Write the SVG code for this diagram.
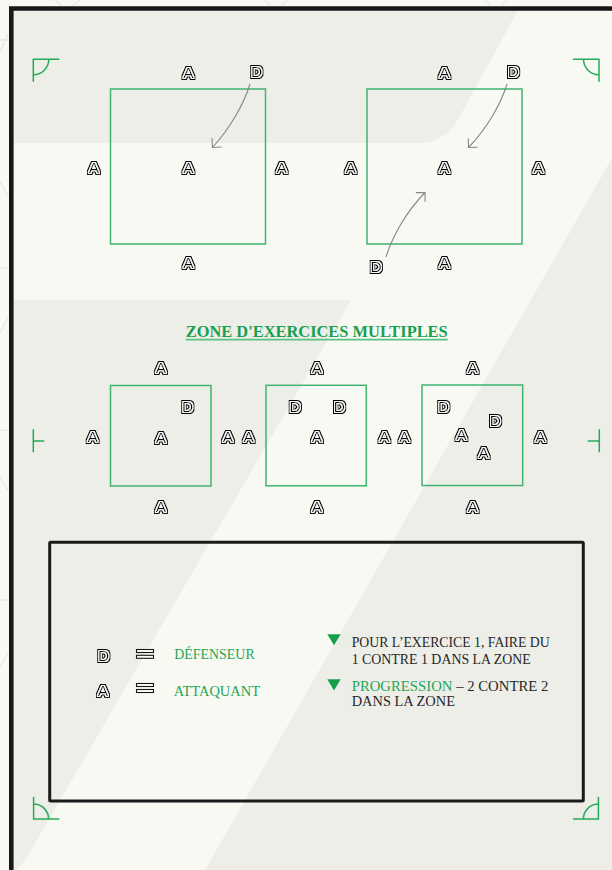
<svg xmlns="http://www.w3.org/2000/svg" width="612" height="870" viewBox="0 0 612 870">
<defs>
<style>
.bgl{fill:#f9f9f4}
.bgg{fill:#eeeee9}
.faint{fill:none;stroke:#e2e2dc;stroke-width:1}
.zone{fill:none;stroke:#3fb56e;stroke-width:1.5}
.mark{fill:none;stroke:#25aa58;stroke-width:1.5}
.pl{font-family:"Liberation Sans",Arial,sans-serif;font-size:15.5px;fill:#111;text-anchor:middle;filter:url(#ol)}
.conn path{fill:none;stroke:#868686;stroke-width:1.1;marker-end:url(#ah)}
.ser{font-family:"Liberation Serif","Times New Roman",serif;font-size:14.3px}
.grn{fill:#1fa556}
.drk{fill:#262626}
.tri{fill:#14a04b}
.eq{fill:#fff;stroke:#151515;stroke-width:1.1}
</style>
<filter id="ol" x="-40%" y="-40%" width="180%" height="180%">
<feMorphology in="SourceAlpha" operator="dilate" radius="2.1" result="o"/>
<feMorphology in="SourceAlpha" operator="dilate" radius="1.05" result="m"/>
<feFlood flood-color="#ffffff"/>
<feComposite in2="m" operator="in" result="w"/>
<feMerge><feMergeNode in="o"/><feMergeNode in="w"/><feMergeNode in="SourceAlpha"/></feMerge>
</filter>
<marker id="ah" markerUnits="userSpaceOnUse" viewBox="-8 -8 10 16" markerWidth="10" markerHeight="16" refX="0" refY="0" orient="auto">
<path d="M-6.5,-6.5 L0,0 L-6.5,6.5" fill="none" stroke="#868686" stroke-width="1.1"/>
</marker>
</defs>

<g id="background">
<rect class="bgl" x="0" y="0" width="612" height="870"/>
<path class="bgg" d="M13,10 L518,10 L459,118 Q445,143 418,143 L13,143 Z"/>
<path class="bgg" d="M612,158 L612,870 L205,870 Z"/>
<path class="bgg" d="M13,300 L351,300 L30,852 Q22,866 16,870 L13,870 Z"/>
<path class="faint" d="M0,52 L8,34 M0,40 L8,40 M0,182 L8,196 M0,268 L8,268 M0,333 L8,317 M0,430 L8,430 M0,477 L8,490 M0,600 L8,600 M0,667 L8,653 M55,0 L62,6 M72,6 L80,0 M265,0 L270,5 M282,5 L287,0 M485,0 L490,5 M502,5 L507,0"/>
</g>

<g id="frame">
<path d="M11.3,870 L11.3,8.5 L612,8.5" fill="none" stroke="#161716" stroke-width="4.6"/>
</g>

<g id="corner-marks">
<path class="mark" d="M33.3,81.7 L33.3,59.3 L59.3,59.3 M33.3,74.8 A15.5,15.5 0 0 0 48.8,59.3"/>
<path class="mark" d="M573,59.3 L599,59.3 L599,81.7 M583.5,59.3 A15.5,15.5 0 0 0 599,74.8"/>
<path class="mark" d="M33.6,797 L33.6,819 L59.3,819 M33.6,804 A15,15 0 0 1 48.6,819"/>
<path class="mark" d="M598.4,797 L598.4,819 L573,819 M598.4,804 A15,15 0 0 0 583.4,819"/>
<path class="mark" d="M33.3,429.3 L33.3,452.3 M33.3,441 L44.3,441"/>
<path class="mark" d="M599.3,429.3 L599.3,452.3 M599.3,441 L587.7,441"/>
</g>

<g id="zones">
<rect id="zone1" class="zone" x="110.5" y="89" width="155" height="155"/>
<rect id="zone2" class="zone" x="367" y="89" width="155" height="155"/>
<rect id="zone3" class="zone" x="110.5" y="385.5" width="100.5" height="100.5"/>
<rect id="zone4" class="zone" x="266" y="385.3" width="100.3" height="100.5"/>
<rect id="zone5" class="zone" x="422" y="385" width="100.7" height="100.5"/>
</g>

<g id="connectors" class="conn">
<path d="M250,84 C244,104 230,128 212.5,147.5"/>
<path d="M507,84 C501,104 487,128 468.5,147.5"/>
<path d="M386,257 C392,238 405,213 425,192.5"/>
</g>

<g id="players">
<g id="p1"><text class="pl" x="188.3" y="78">A</text></g>
<g id="p2"><text class="pl" x="256.7" y="76.5">D</text></g>
<g id="p3"><text class="pl" x="94" y="173">A</text></g>
<g id="p4"><text class="pl" x="188.3" y="173">A</text></g>
<g id="p5"><text class="pl" x="281.7" y="173">A</text></g>
<g id="p6"><text class="pl" x="188.3" y="268">A</text></g>
<g id="p7"><text class="pl" x="444.3" y="78">A</text></g>
<g id="p8"><text class="pl" x="513.3" y="76.5">D</text></g>
<g id="p9"><text class="pl" x="350.7" y="173">A</text></g>
<g id="p10"><text class="pl" x="444.3" y="173">A</text></g>
<g id="p11"><text class="pl" x="538.3" y="173">A</text></g>
<g id="p12"><text class="pl" x="444.3" y="268">A</text></g>
<g id="p13"><text class="pl" x="376" y="271.5">D</text></g>

<g id="p14"><text class="pl" x="161" y="373">A</text></g>
<g id="p15"><text class="pl" x="187.7" y="412.2">D</text></g>
<g id="p16"><text class="pl" x="92.7" y="442.2">A</text></g>
<g id="p17"><text class="pl" x="161" y="442.5">A</text></g>
<g id="p18"><text class="pl" x="228" y="442.2">A</text></g>
<g id="p19"><text class="pl" x="248.7" y="442.2">A</text></g>
<g id="p20"><text class="pl" x="161" y="512">A</text></g>
<g id="p21"><text class="pl" x="317" y="373">A</text></g>
<g id="p22"><text class="pl" x="295" y="412.2">D</text></g>
<g id="p23"><text class="pl" x="339.3" y="412.2">D</text></g>
<g id="p24"><text class="pl" x="317" y="442.2">A</text></g>
<g id="p25"><text class="pl" x="384.3" y="442.2">A</text></g>
<g id="p26"><text class="pl" x="404.3" y="442.2">A</text></g>
<g id="p27"><text class="pl" x="317" y="512">A</text></g>
<g id="p28"><text class="pl" x="472.7" y="373">A</text></g>
<g id="p29"><text class="pl" x="443.7" y="412.2">D</text></g>
<g id="p30"><text class="pl" x="495.3" y="425.5">D</text></g>
<g id="p31"><text class="pl" x="461.3" y="439.8">A</text></g>
<g id="p32"><text class="pl" x="483.7" y="458">A</text></g>
<g id="p33"><text class="pl" x="540.3" y="442.2">A</text></g>
<g id="p34"><text class="pl" x="472.7" y="512">A</text></g>
</g>

<g id="title">
<text x="316.7" y="336.7" text-anchor="middle" textLength="262" lengthAdjust="spacingAndGlyphs" style="font-family:'Liberation Serif','Times New Roman',serif;font-weight:bold;font-size:17px;fill:#16a04f">ZONE D'EXERCICES MULTIPLES</text>
<line x1="185.7" y1="339.6" x2="447.7" y2="339.6" stroke="#5cc184" stroke-width="1.6"/>
</g>

<g id="legend">
<rect x="49.7" y="542.3" width="533.6" height="258.7" rx="1" fill="none" stroke="#1a1a1a" stroke-width="3"/>
<g id="leg-d">
<text class="pl" x="103.7" y="660.5">D</text>
<rect class="eq" x="136.5" y="649.5" width="17" height="3"/>
<rect class="eq" x="136.5" y="655.3" width="17" height="3"/>
<text class="ser grn" x="174.3" y="659" textLength="80.4" lengthAdjust="spacingAndGlyphs">DÉFENSEUR</text>
</g>
<g id="leg-a">
<text class="pl" x="103" y="696.2">A</text>
<rect class="eq" x="136.5" y="683.5" width="17" height="3"/>
<rect class="eq" x="136.5" y="689.5" width="17" height="3"/>
<text class="ser grn" x="173.7" y="695.7" textLength="86.3" lengthAdjust="spacingAndGlyphs">ATTAQUANT</text>
</g>
<g id="note1">
<polygon class="tri" points="327.3,634.3 340.7,634.3 334,645.2"/>
<text class="ser drk" x="351.7" y="647.3" textLength="198" lengthAdjust="spacingAndGlyphs">POUR L’EXERCICE 1, FAIRE DU</text>
<text class="ser drk" x="351.7" y="664" textLength="179" lengthAdjust="spacingAndGlyphs">1 CONTRE 1 DANS LA ZONE</text>
</g>
<g id="note2">
<polygon class="tri" points="327.3,679.3 340.7,679.3 334,690.5"/>
<text class="ser drk" x="351.7" y="690.7" textLength="196.6" lengthAdjust="spacingAndGlyphs"><tspan class="grn">PROGRESSION</tspan> – 2 CONTRE 2</text>
<text class="ser drk" x="351.7" y="706" textLength="103.3" lengthAdjust="spacingAndGlyphs">DANS LA ZONE</text>
</g>
</g>
</svg>
